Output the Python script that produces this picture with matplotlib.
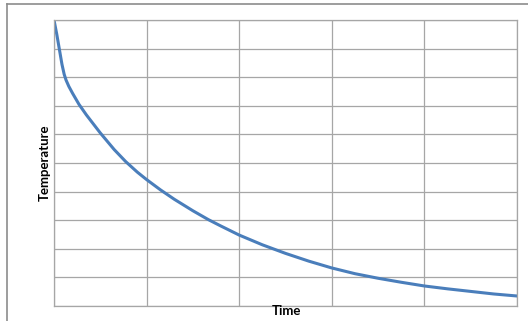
import matplotlib
matplotlib.use("Agg")
import matplotlib.pyplot as plt
from matplotlib.lines import Line2D
import numpy as np

# values (time 0..5, temperature 0..10, no tick labels shown)
time = [0.0, 0.03, 0.054, 0.086, 0.11, 0.13, 0.16, 0.20, 0.27, 0.35, 0.50,
        0.65, 0.774, 0.90, 1.00, 1.15, 1.30, 1.50, 1.667, 1.80, 2.00, 2.25,
        2.50, 2.75, 3.00, 3.25, 3.50, 3.75, 4.00, 4.25, 4.50, 4.75, 5.00]
temperature = [10.0, 9.5, 9.05, 8.45, 8.1, 7.9, 7.68, 7.44, 7.05, 6.68, 6.05,
               5.47, 5.05, 4.68, 4.42, 4.06, 3.73, 3.33, 3.02, 2.80, 2.48, 2.14,
               1.84, 1.57, 1.33, 1.13, 0.97, 0.83, 0.70, 0.60, 0.51, 0.42, 0.35]

grid_col = "#a6a6a6"

fig = plt.figure(figsize=(5.28, 3.21), dpi=100)
fig.patch.set_facecolor("white")
ax = fig.add_axes([54 / 528, 15 / 321, 463 / 528, 286 / 321])

ax.plot(time, temperature, color="#4a7ebb", lw=2.2, solid_capstyle="round",
        solid_joinstyle="round")

ax.set_xlim(0, 5)
ax.set_ylim(0, 10)
ax.set_xticks(np.arange(0, 6, 1))
ax.set_yticks(np.arange(0, 11, 1))
ax.grid(True, color=grid_col, lw=0.9)
ax.set_axisbelow(True)
ax.tick_params(length=0, labelleft=False, labelbottom=False)
for s in ax.spines.values():
    s.set_color(grid_col)
    s.set_linewidth(0.9)

fig.text(45 / 528, 1 - 163 / 321, "Temperature", rotation=90, ha="center", va="center",
         family="Lato", fontweight="bold", fontsize=9.5)
fig.text(286 / 528, 1 - 311 / 321, "Time", ha="center", va="center",
         family="Lato", fontweight="bold", fontsize=9.5)

# outer chart frame (left and top edges visible)
fig.add_artist(Line2D([7 / 528, 7 / 528], [0, 1 - 4 / 321], color="#8c8c8c", lw=1.2))
fig.add_artist(Line2D([7 / 528, 1], [1 - 4 / 321, 1 - 4 / 321], color="#8c8c8c", lw=1.2))

fig.savefig("out.png", dpi=100)
